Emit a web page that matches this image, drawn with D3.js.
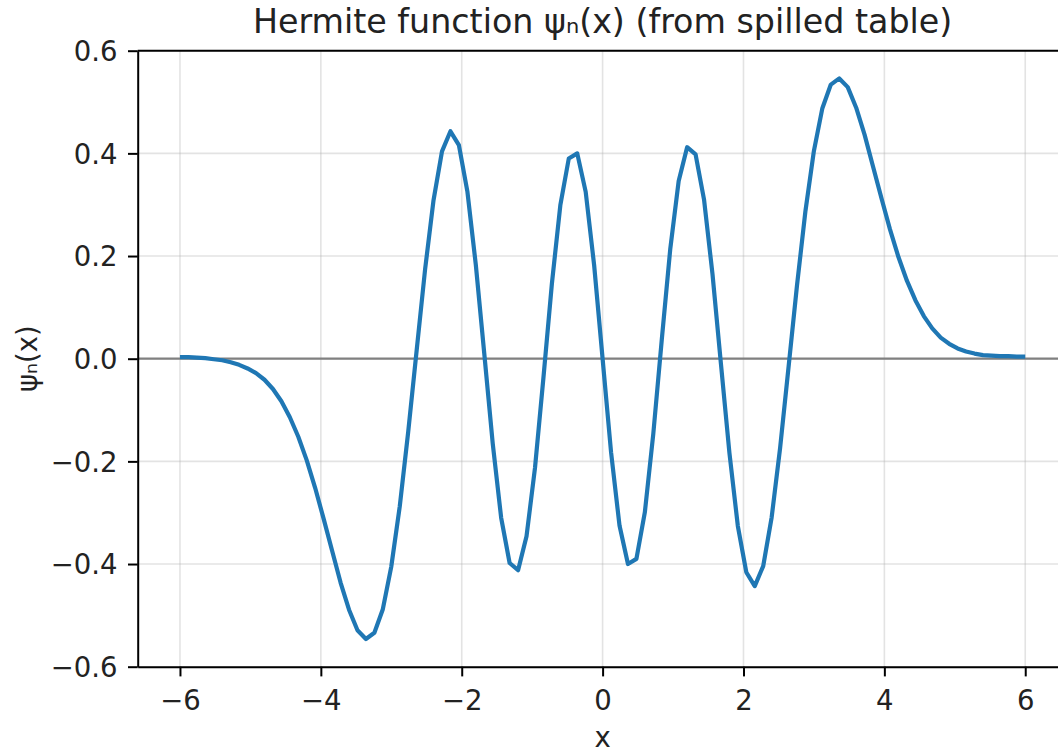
<!DOCTYPE html>
<meta charset="utf-8">
<script src="https://d3js.org/d3.v7.min.js"></script>
<style>
body { margin: 0; background: #fff; }
svg { font-family: "DejaVu Sans", sans-serif; }
.grid line { stroke: #b0b0b0; stroke-opacity: 0.35; stroke-width: 1.6; }
.axis path, .axis line { stroke: #000; stroke-width: 2; }
.axis text { fill: #222; font-size: 27.5px; }
.line { fill: none; stroke: #1f77b4; stroke-width: 4.2; stroke-linejoin: round; }
.zero { stroke: #808080; stroke-width: 2.2; }
</style>
<body>
<script>

var titleText = "Hermite function ψₙ(x) (from spilled table)"
var xLabel = "x"
var yLabel = "ψₙ(x)"

var xTicks = [-6, -4, -2, 0, 2, 4, 6]
var yTicks = [-0.6, -0.4, -0.2, 0.0, 0.2, 0.4, 0.6]

// sample points of the curve
var xs = [
  -6, -5.88, -5.76, -5.64, -5.52, -5.4, -5.28, -5.16, -5.04, -4.92,
  -4.8, -4.68, -4.56, -4.44, -4.32, -4.2, -4.08, -3.96, -3.84, -3.72,
  -3.6, -3.48, -3.36, -3.24, -3.12, -3, -2.88, -2.76, -2.64, -2.52,
  -2.4, -2.28, -2.16, -2.04, -1.92, -1.8, -1.68, -1.56, -1.44, -1.32,
  -1.2, -1.08, -0.96, -0.84, -0.72, -0.6, -0.48, -0.36, -0.24, -0.12,
  0,
  0.12, 0.24, 0.36, 0.48, 0.6, 0.72, 0.84, 0.96, 1.08, 1.2,
  1.32, 1.44, 1.56, 1.68, 1.8, 1.92, 2.04, 2.16, 2.28, 2.4,
  2.52, 2.64, 2.76, 2.88, 3, 3.12, 3.24, 3.36, 3.48, 3.6,
  3.72, 3.84, 3.96, 4.08, 4.2, 4.32, 4.44, 4.56, 4.68, 4.8,
  4.92, 5.04, 5.16, 5.28, 5.4, 5.52, 5.64, 5.76, 5.88, 6
]
var psi = [
  0.003, 0.003, 0.002, 0.001, -0.001, -0.003, -0.007, -0.012, -0.019, -0.028,
  -0.041, -0.059, -0.083, -0.114, -0.152, -0.198, -0.252, -0.312, -0.374, -0.436,
  -0.489, -0.529, -0.546, -0.534, -0.488, -0.405, -0.288, -0.143, 0.016, 0.174,
  0.309, 0.404, 0.443, 0.416, 0.326, 0.183, 0.010, -0.165, -0.310, -0.398,
  -0.412, -0.346, -0.213, -0.037, 0.146, 0.299, 0.390, 0.400, 0.325, 0.182,
  0.000,
  -0.182, -0.325, -0.400, -0.390, -0.299, -0.146, 0.037, 0.213, 0.346, 0.412,
  0.398, 0.310, 0.165, -0.010, -0.183, -0.326, -0.416, -0.443, -0.404, -0.309,
  -0.174, -0.016, 0.143, 0.288, 0.405, 0.488, 0.534, 0.546, 0.529, 0.489,
  0.436, 0.374, 0.312, 0.252, 0.198, 0.152, 0.114, 0.083, 0.059, 0.041,
  0.029, 0.020, 0.014, 0.010, 0.007, 0.006, 0.005, 0.005, 0.004, 0.004
]

var data = xs.map(function(x, i) { return {x: x, y: psi[i]} })

var margin = {top: 50.7, left: 137.7}
var width = 929.8, height = 616

var svg = d3.select("body").append("svg")
  .attr("width", 1058)
  .attr("height", 753)

var g = svg.append("g")
  .attr("transform", "translate(" + margin.left + "," + margin.top + ")")

var xScale = d3.scaleLinear().domain([-6.6, 6.6]).range([0, width])
var yScale = d3.scaleLinear().domain([-0.6, 0.6]).range([height, 0])

// grid
g.append("g").attr("class", "grid")
  .selectAll("line").data(xTicks).enter().append("line")
  .attr("x1", function(d) { return xScale(d) }).attr("x2", function(d) { return xScale(d) })
  .attr("y1", 0).attr("y2", height)
g.append("g").attr("class", "grid")
  .selectAll("line").data(yTicks).enter().append("line")
  .attr("x1", 0).attr("x2", width)
  .attr("y1", function(d) { return yScale(d) }).attr("y2", function(d) { return yScale(d) })

// zero line
g.append("line").attr("class", "zero")
  .attr("x1", 0).attr("x2", width)
  .attr("y1", yScale(0)).attr("y2", yScale(0))

var line = d3.line()
  .x(function(d) { return xScale(d.x) })
  .y(function(d) { return yScale(d.y) })

g.append("path").attr("class", "line").attr("d", line(data))

// top and right spines
g.append("line").attr("x1", 0).attr("x2", width).attr("y1", 0).attr("y2", 0)
  .style("stroke", "#000").style("stroke-width", 2)
g.append("line").attr("x1", width).attr("x2", width).attr("y1", 0).attr("y2", height)
  .style("stroke", "#000").style("stroke-width", 2)

var xAxis = d3.axisBottom(xScale).tickValues(xTicks).tickFormat(d3.format("d"))
  .tickSize(9.7).tickPadding(13.6).tickSizeOuter(0)
var yAxis = d3.axisLeft(yScale).tickValues(yTicks).tickFormat(d3.format(".1f"))
  .tickSize(9.7).tickPadding(10.5).tickSizeOuter(0)

g.append("g").attr("class", "x axis")
  .attr("transform", "translate(0," + height + ")")
  .call(xAxis)
g.append("g").attr("class", "y axis")
  .call(yAxis)
  .selectAll("text").attr("dy", "0.36em")
g.selectAll(".axis").attr("font-size", null).attr("font-family", null)

svg.append("text")
  .attr("x", margin.left + width / 2)
  .attr("y", 33)
  .attr("text-anchor", "middle")
  .style("font-size", "33.3px")
  .style("fill", "#222")
  .text(titleText)

svg.append("text")
  .attr("x", margin.left + xScale(0))
  .attr("y", 747)
  .attr("text-anchor", "middle")
  .style("font-size", "27.5px")
  .style("fill", "#222")
  .text(xLabel)

svg.append("text")
  .attr("transform", "translate(37," + (margin.top + height / 2) + ") rotate(-90)")
  .attr("text-anchor", "middle")
  .style("font-size", "27.5px")
  .style("fill", "#222")
  .text(yLabel)

</script>
</body>
